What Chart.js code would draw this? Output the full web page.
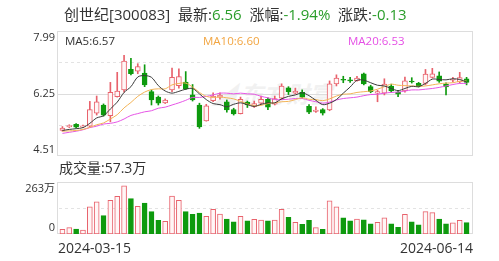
<!DOCTYPE html>
<html lang="zh">
<head>
<meta charset="UTF-8">
<title>创世纪 日K</title>
<script src="https://cdn.jsdelivr.net/npm/chart.js@4"></script>
<style>
  body { margin: 0; background: #fff; overflow: hidden; }
  #wrap { position: relative; width: 499px; height: 261px; font-family: "Open Sans", "Noto Sans CJK SC", sans-serif; color: #333; }
  canvas { position: absolute; left: 0; top: 0; }
  .txt { position: absolute; white-space: nowrap; line-height: 1; }
  .g { color: #2a9d2a; }
  .mark { position: absolute; left: 212px; top: 76px; font-size: 23px; font-weight: bold; font-style: italic; color: #f1f1f1; font-family: "Noto Sans CJK SC", sans-serif; }
</style>
</head>
<body>
<div id="wrap">
  <div class="mark">◢ 东方财富</div>
  <canvas id="priceChart" width="499" height="261"></canvas>
  <canvas id="volChart" width="499" height="261"></canvas>
  <div class="txt" style="left:64px; top:7px; font-size:15px;">创世纪[300083]&nbsp; 最新:<span class="g">6.56</span>&nbsp;&nbsp;涨幅:<span class="g">-1.94%</span>&nbsp;&nbsp;涨跌:<span class="g">-0.13</span></div>
  <div class="txt" style="left:65px; top:35px; font-size:11.5px; color:#333;">MA5:6.57</div>
  <div class="txt" style="left:203px; top:35px; font-size:11.5px; color:#f2a541;">MA10:6.60</div>
  <div class="txt" style="left:348px; top:35px; font-size:11.5px; color:#e54fe5;">MA20:6.53</div>
  <div class="txt" style="left:59px; top:161px; font-size:14px;">成交量:57.3万</div>
</div>
<script>
// 60 trading days, 2024-03-15 .. 2024-06-14
const dates = [
  '2024-03-15','2024-03-18','2024-03-19','2024-03-20','2024-03-21','2024-03-22','2024-03-25','2024-03-26','2024-03-27','2024-03-28',
  '2024-03-29','2024-04-01','2024-04-02','2024-04-03','2024-04-08','2024-04-09','2024-04-10','2024-04-11','2024-04-12','2024-04-15',
  '2024-04-16','2024-04-17','2024-04-18','2024-04-19','2024-04-22','2024-04-23','2024-04-24','2024-04-25','2024-04-26','2024-04-29',
  '2024-04-30','2024-05-06','2024-05-07','2024-05-08','2024-05-09','2024-05-10','2024-05-13','2024-05-14','2024-05-15','2024-05-16',
  '2024-05-17','2024-05-20','2024-05-21','2024-05-22','2024-05-23','2024-05-24','2024-05-27','2024-05-28','2024-05-29','2024-05-30',
  '2024-05-31','2024-06-03','2024-06-04','2024-06-05','2024-06-06','2024-06-07','2024-06-11','2024-06-12','2024-06-13','2024-06-14'
];

const openP = [
  5.22, 5.32, 5.39, 5.32, 5.34, 5.70, 5.93, 5.63, 6.16, 6.35,
  6.92, 6.87, 6.82, 6.30, 6.15, 5.99, 6.35, 6.47, 6.57, 6.21,
  5.93, 5.49, 6.05, 6.15, 6.02, 5.80, 5.69, 6.01, 5.89, 5.98,
  6.09, 5.95, 6.12, 6.41, 6.26, 6.29, 5.89, 5.75, 5.80, 5.79,
  6.52, 6.64, 6.62, 6.61, 6.80, 6.44, 6.26, 6.26, 6.46, 6.29,
  6.32, 6.59, 6.53, 6.53, 6.70, 6.74, 6.51, 6.62, 6.57, 6.66
];
const closeP = [
  5.29, 5.36, 5.31, 5.35, 5.80, 6.02, 5.65, 6.28, 6.32, 7.15,
  6.80, 7.00, 6.49, 6.07, 5.98, 6.07, 6.70, 6.72, 6.38, 6.07,
  5.32, 5.91, 6.18, 6.20, 5.79, 5.68, 6.09, 5.93, 5.97, 6.09,
  5.87, 6.11, 6.46, 6.30, 6.32, 6.15, 5.73, 5.79, 5.70, 6.52,
  6.68, 6.62, 6.60, 6.68, 6.52, 6.30, 6.30, 6.51, 6.32, 6.23,
  6.60, 6.57, 6.46, 6.79, 6.80, 6.59, 6.43, 6.64, 6.69, 6.56
];
const highP = [
  5.33, 5.38, 5.41, 5.37, 6.03, 6.18, 5.96, 6.56, 6.84, 7.31,
  7.23, 7.08, 7.05, 6.35, 6.18, 6.10, 6.96, 6.94, 6.86, 6.50,
  5.98, 5.95, 6.27, 6.27, 6.07, 5.84, 6.15, 6.04, 6.04, 6.18,
  6.13, 6.18, 6.52, 6.44, 6.40, 6.35, 5.94, 5.88, 5.83, 6.60,
  6.77, 6.73, 6.70, 6.73, 6.82, 6.48, 6.34, 6.66, 6.51, 6.34,
  6.71, 6.69, 6.56, 6.92, 6.95, 6.85, 6.55, 6.70, 6.84, 6.70
];
const lowP = [
  5.20, 5.30, 5.29, 5.30, 5.32, 5.65, 5.62, 5.46, 6.15, 6.29,
  6.77, 6.80, 6.44, 5.93, 5.93, 5.97, 6.30, 6.40, 6.36, 6.04,
  5.28, 5.48, 6.02, 6.09, 5.73, 5.65, 5.68, 5.86, 5.86, 5.95,
  5.80, 5.93, 6.08, 6.22, 6.24, 6.12, 5.69, 5.72, 5.65, 5.77,
  6.46, 6.55, 6.56, 6.59, 6.49, 6.27, 6.02, 6.21, 6.29, 6.16,
  6.29, 6.54, 6.43, 6.49, 6.68, 6.56, 6.21, 6.57, 6.54, 6.49
];

// 成交量 (万手)
const volume = [
  24, 32, 25, 20, 138, 163, 93, 170, 191, 244,
  179, 140, 157, 113, 69, 64, 192, 170, 113, 100,
  106, 90, 125, 101, 76, 62, 90, 66, 74, 71,
  67, 71, 125, 84, 59, 49, 69, 32, 24, 168,
  138, 82, 67, 76, 72, 51, 59, 82, 51, 34,
  100, 62, 47, 113, 108, 76, 51, 56, 69, 57.3
];
// 1 = 红(涨) 0 = 绿(跌)
const volUp = [
  1, 1, 0, 1, 1, 1, 0, 1, 1, 1,
  0, 1, 0, 0, 0, 1, 1, 1, 0, 0,
  0, 1, 1, 1, 0, 0, 1, 0, 1, 1,
  0, 1, 1, 0, 1, 0, 0, 1, 0, 1,
  1, 0, 0, 1, 0, 0, 1, 1, 0, 0,
  1, 0, 0, 1, 1, 0, 0, 1, 1, 0
];

const ma5 = [
  5.22, 5.25, 5.27, 5.30, 5.42, 5.57, 5.63, 5.82, 6.01, 6.28,
  6.44, 6.71, 6.75, 6.70, 6.47, 6.32, 6.26, 6.31, 6.37, 6.39,
  6.24, 6.08, 5.97, 5.94, 5.88, 5.95, 5.99, 5.94, 5.89, 5.95,
  5.99, 5.99, 6.10, 6.17, 6.21, 6.27, 6.19, 6.06, 5.94, 5.98,
  6.08, 6.26, 6.43, 6.62, 6.62, 6.55, 6.48, 6.46, 6.39, 6.33,
  6.39, 6.45, 6.44, 6.53, 6.65, 6.64, 6.63, 6.66, 6.64, 6.57
];
const ma10 = [
  5.20, 5.21, 5.22, 5.25, 5.31, 5.38, 5.43, 5.54, 5.66, 5.85,
  6.00, 6.17, 6.29, 6.36, 6.38, 6.38, 6.49, 6.53, 6.54, 6.43,
  6.28, 6.17, 6.14, 6.15, 6.13, 6.10, 6.03, 5.96, 5.91, 5.92,
  5.97, 5.99, 6.02, 6.03, 6.08, 6.13, 6.09, 6.08, 6.05, 6.10,
  6.18, 6.23, 6.24, 6.28, 6.30, 6.32, 6.37, 6.44, 6.51, 6.48,
  6.47, 6.46, 6.45, 6.46, 6.49, 6.52, 6.54, 6.55, 6.59, 6.60
];
const ma20 = [
  5.14, 5.17, 5.20, 5.24, 5.30, 5.34, 5.40, 5.42, 5.46, 5.54,
  5.64, 5.69, 5.74, 5.77, 5.84, 5.87, 5.93, 5.99, 6.06, 6.14,
  6.14, 6.17, 6.21, 6.26, 6.26, 6.24, 6.26, 6.24, 6.23, 6.17,
  6.13, 6.08, 6.08, 6.09, 6.11, 6.11, 6.06, 6.02, 5.98, 6.01,
  6.07, 6.11, 6.13, 6.15, 6.19, 6.22, 6.23, 6.26, 6.28, 6.29,
  6.32, 6.35, 6.35, 6.37, 6.39, 6.42, 6.46, 6.50, 6.53, 6.53
];

const priceTicks = [4.51, 6.25, 7.99];
const priceDashed = [5.38, 7.12];
const volTicks = [0, 263];
const volTickLabels = ['0', '263万'];
const volDashed = [131.5];

const RED = '#e8626c';
const RED_FILL = '#fff6f6';
const GREEN = '#0e9a0e';
const FRAME = '#dddddd';

const candleUp = openP.map((o, i) => closeP[i] >= o);
const bodyFill = candleUp.map(u => u ? RED_FILL : GREEN);
const bodyLine = candleUp.map(u => u ? RED : GREEN);
const volFill = volUp.map(u => u ? RED_FILL : GREEN);
const volLine = volUp.map(u => u ? RED : GREEN);

// frame, dashed grid lines and edge labels drawn from the chart's own y scale
const panelFrame = {
  id: 'panelFrame',
  beforeDatasetsDraw(chart, args, opts) {
    const { ctx, chartArea: a } = chart;
    const y = chart.scales.y;
    ctx.save();
    ctx.lineWidth = 1;
    ctx.strokeStyle = FRAME;
    ctx.strokeRect(a.left - 1.5, a.top + 0.5, a.right - a.left + 4, a.bottom - a.top - 1);
    (opts.solid || []).forEach(v => {
      const py = Math.round(y.getPixelForValue(v)) + 0.5;
      ctx.beginPath(); ctx.moveTo(a.left - 1, py); ctx.lineTo(a.right + 2, py); ctx.stroke();
    });
    ctx.setLineDash([3, 3]);
    ctx.strokeStyle = '#e3e3e3';
    (opts.dashed || []).forEach(v => {
      const py = Math.round(y.getPixelForValue(v)) + 0.5;
      ctx.beginPath(); ctx.moveTo(a.left, py); ctx.lineTo(a.right + 2, py); ctx.stroke();
    });
    ctx.restore();
  },
  afterDraw(chart, args, opts) {
    const { ctx, chartArea: a } = chart;
    const y = chart.scales.y;
    ctx.save();
    ctx.font = '11px "Open Sans", "Noto Sans CJK SC", sans-serif';
    ctx.fillStyle = '#333';
    ctx.textAlign = 'right';
    opts.ticks.forEach((v, i) => {
      const py = y.getPixelForValue(v);
      let dy = 0;
      if (v === y.max) { ctx.textBaseline = 'top'; dy = 1; }
      else if (v === y.min) { ctx.textBaseline = 'bottom'; dy = -1; }
      else ctx.textBaseline = 'middle';
      ctx.fillText(opts.labels ? opts.labels[i] : String(v), a.left - 4, py + dy);
    });
    if (opts.dates) {
      ctx.font = '14px "Open Sans", sans-serif';
      ctx.textBaseline = 'middle';
      ctx.textAlign = 'left';
      ctx.fillText(opts.dates[0], a.left - 1, a.bottom + 15);
      ctx.textAlign = 'right';
      ctx.fillText(opts.dates[opts.dates.length - 1], a.right + 3, a.bottom + 15);
    }
    ctx.restore();
  }
};

const noAxis = { display: false };

new Chart(document.getElementById('priceChart'), {
  data: {
    labels: dates,
    datasets: [
      { type: 'line', data: ma5, borderColor: '#3a3a3a', borderWidth: 1, pointRadius: 0, tension: 0.3 },
      { type: 'line', data: ma10, borderColor: '#f3b356', borderWidth: 1, pointRadius: 0, tension: 0.3 },
      { type: 'line', data: ma20, borderColor: '#e655e6', borderWidth: 1, pointRadius: 0, tension: 0.3 },
      {
        type: 'bar', grouped: false, barThickness: 5, minBarLength: 1,
        data: openP.map((o, i) => [o, closeP[i]]),
        backgroundColor: bodyFill, borderColor: bodyLine, borderWidth: 1, borderSkipped: false
      },
      {
        type: 'bar', grouped: false, barThickness: 1,
        data: lowP.map((l, i) => [l, highP[i]]),
        backgroundColor: bodyLine, borderWidth: 0
      }
    ]
  },
  options: {
    responsive: false,
    animation: false,
    layout: { padding: { left: 59, right: 29, top: 31, bottom: 105 } },
    scales: {
      x: { ...noAxis, offset: true },
      y: { ...noAxis, min: priceTicks[0], max: priceTicks[priceTicks.length - 1] }
    },
    plugins: {
      legend: { display: false },
      tooltip: { enabled: false },
      panelFrame: { ticks: priceTicks, solid: [priceTicks[1]], dashed: priceDashed }
    }
  },
  plugins: [panelFrame]
});

new Chart(document.getElementById('volChart'), {
  type: 'bar',
  data: {
    labels: dates,
    datasets: [{
      data: volume, barThickness: 5,
      backgroundColor: volFill, borderColor: volLine, borderWidth: 1, borderSkipped: false
    }]
  },
  options: {
    responsive: false,
    animation: false,
    layout: { padding: { left: 59, right: 29, top: 182, bottom: 27 } },
    scales: {
      x: { ...noAxis, offset: true },
      y: { ...noAxis, min: volTicks[0], max: volTicks[1] }
    },
    plugins: {
      legend: { display: false },
      tooltip: { enabled: false },
      panelFrame: { ticks: volTicks, labels: volTickLabels, dashed: volDashed, dates: dates }
    }
  },
  plugins: [panelFrame]
});
</script>
</body>
</html>
